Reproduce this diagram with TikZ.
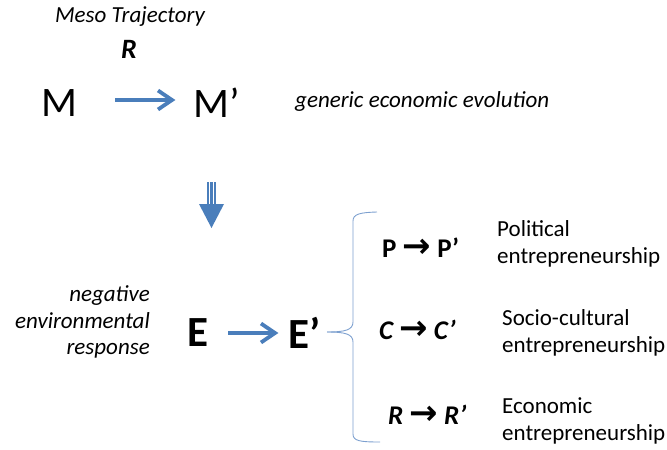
\documentclass[tikz,border=0pt]{standalone}
\usepackage{fontspec}
\setmainfont{Carlito}
\newfontfamily\symfont{DejaVu Sans}
\usetikzlibrary{arrows.meta}
\definecolor{obl}{HTML}{4A7EBB}
\definecolor{brc}{HTML}{7DA0CF}
\tikzset{
  lbl/.style={inner sep=0pt, font=\fontsize{23}{26.5}\selectfont\itshape},
  big/.style={inner sep=0pt, font=\fontsize{42}{42}\selectfont},
  bigb/.style={inner sep=0pt, font=\fontsize{43}{43}\selectfont\bfseries},
  pair/.style={inner sep=0pt, font=\fontsize{27}{27}\selectfont\bfseries},
  desc/.style={inner sep=0pt, align=left, anchor=west, font=\fontsize{23}{27.5}\selectfont},
  blline/.style={obl, line width=3.8pt, miter limit=10},
}
\newcommand{\tarr}{{\upshape\symfont\bfseries\fontsize{34}{34}\selectfont →}}
\begin{document}
\begin{tikzpicture}[x=1pt,y=-1pt]
\useasboundingbox (0,0) rectangle (667,450);
% top
\node[lbl] (meso) at (130,17) {Meso Trajectory};
\node[inner sep=0pt, font=\fontsize{28}{28}\selectfont\bfseries\itshape] (r) at (129,49) {R};
\node[big] (m) at (59,103) {M};
\node[big] (mp) at (217,103) {M’};
\coordinate (a1s) at (115,100);
\coordinate (a1e) at (172,100);
\draw[blline] (a1s) -- (a1e);
\draw[blline] ([shift={(-14,-9.5)}]a1e) -- (a1e) -- ([shift={(-14,9.5)}]a1e);
\node[lbl, anchor=west] (gen) at (295,101) {generic economic evolution};
% down arrow
\coordinate (dtop) at (211.5,182);
\fill[obl] (207,182) rectangle (216,205);
\draw[white, line width=1pt] (209.6,182) -- (209.6,205) (213.4,182) -- (213.4,205);
\fill[obl] (199,204) -- (224,204) -- (211.5,228) -- cycle;
% E row
\node[lbl, align=right, anchor=east] (neg) at (150,322) {negative\\environmental\\response};
\node[bigb] (e) at (198,333) {E};
\node[bigb] (ep) at (305,333) {E’};
\coordinate (a2s) at (228,333);
\coordinate (a2e) at (275,333);
\draw[blline] (a2s) -- (a2e);
\draw[blline] ([shift={(-14,-9.5)}]a2e) -- (a2e) -- ([shift={(-14,9.5)}]a2e);
% brace
\coordinate (tip) at (327,332);
\draw[brc, line width=0.9pt] (tip) .. controls (345,332) and (353,330) .. (353,322) -- (353,221) .. controls (353,214) and (360,212.5) .. (377,212);
\draw[brc, line width=0.9pt] (tip) .. controls (345,332) and (353,334) .. (353,342) -- (353,434) .. controls (353,441) and (360,442) .. (380,442);
% right items
\node[pair, anchor=west] (pp) at (382,248) {P \tarr{} P’};
\node[pair, anchor=west] (cc) at (379,330) {\itshape C \tarr{} C’};
\node[pair, anchor=west] (rr) at (388,415) {\itshape R \tarr{} R’};
\node[desc] (pol) at (497,244) {Political\\entrepreneurship};
\node[desc] (soc) at (502,333) {Socio-cultural\\entrepreneurship};
\node[desc] (eco) at (502,421) {Economic\\entrepreneurship};
\end{tikzpicture}
\end{document}
